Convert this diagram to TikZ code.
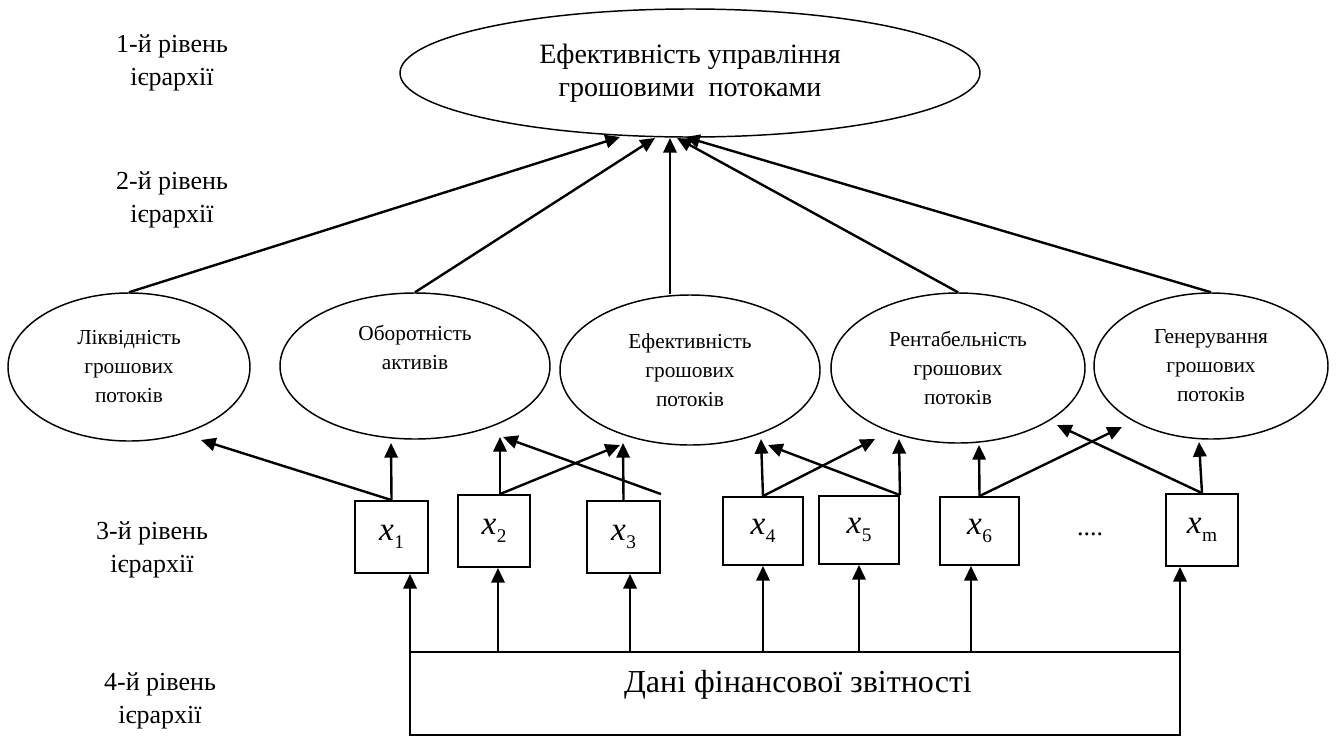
\documentclass[tikz,border=0pt]{standalone}
\usepackage{fontspec}
\setmainfont{Liberation Serif}
\usetikzlibrary{shapes.geometric,arrows.meta}
\newcommand{\xlab}[1]{\textit{x}\kern0.3pt\raisebox{-6.5pt}{\fontsize{14.5}{14.5}\selectfont #1}}
\begin{document}
\begin{tikzpicture}[x=0.75pt,y=-0.75pt,
  ell/.style={draw,ellipse,line width=1.1pt,inner sep=0pt,align=center},
  lvtwo/.style={ell,font=\fontsize{16}{21.75}\selectfont},
  xbox/.style={draw,rectangle,line width=1.4pt,inner sep=0pt,font=\fontsize{25}{25}\selectfont},
  arr/.style={line width=1.8pt,-{Triangle[length=11pt,width=10pt]}},
  lvl/.style={align=center,font=\fontsize{19.5}{25}\selectfont},
]
\useasboundingbox (0,0) rectangle (1336,736);

% level labels
\node[lvl] (L1) at (172,63) {1-й рівень\\ієрархії};
\node[lvl] (L2) at (172,200) {2-й рівень\\ієрархії};
\node[lvl] (L3) at (152,550) {3-й рівень\\ієрархії};
\node[lvl] (L4) at (160,701) {4-й рівень\\ієрархії};

% level 1
\node[ell,minimum width=435pt,minimum height=96pt,font=\fontsize{21}{24.75}\selectfont] (top) at (690,73)
  {Ефективність управління\\грошовими\ \ потоками};

% level 2
\node[lvtwo,minimum width=181.5pt,minimum height=111pt] (E1) at (129,367) {Ліквідність\\грошових\\потоків};
\node[lvtwo,minimum width=202.5pt,minimum height=109.5pt] (E2) at (415,366) {Оборотність\\активів\\\strut};
\node[lvtwo,minimum width=195pt,minimum height=112.5pt] (E3) at (690,370) {Ефективність\\грошових\\потоків};
\node[lvtwo,minimum width=190.5pt,minimum height=112.5pt] (E4) at (958,368) {Рентабельність\\грошових\\потоків};
\node[lvtwo,minimum width=175.5pt,minimum height=109.5pt] (E5) at (1211,366) {Генерування\\грошових\\потоків};

% level 3
\node[xbox,minimum width=54.75pt,minimum height=54pt] (x1) at (391.5,537) {\xlab{1}};
\node[xbox,minimum width=54pt,minimum height=54pt] (x2) at (494,531) {\xlab{2}};
\node[xbox,minimum width=54.75pt,minimum height=54pt] (x3) at (623.5,537) {\xlab{3}};
\node[xbox,minimum width=60pt,minimum height=51pt] (x4) at (763,531) {\xlab{4}};
\node[xbox,minimum width=60pt,minimum height=51pt] (x5) at (859,530) {\xlab{5}};
\node[xbox,minimum width=59.25pt,minimum height=51pt] (x6) at (979.5,531) {\xlab{6}};
\node[xbox,minimum width=54pt,minimum height=54pt] (xm) at (1202,530) {\xlab{m}};
\node[anchor=base,font=\fontsize{19.5}{20}\selectfont] (dots) at (1090,535) {....};

% level 4
\node[draw,rectangle,line width=1.3pt,minimum width=577.5pt,minimum height=62.25pt,inner sep=0pt] (data) at (795,693.5) {};
\node[anchor=base,font=\fontsize{24}{24}\selectfont] (datatxt) at (798,692) {Дані фінансової звітності};

% tips on the top ellipse
\coordinate (T1) at (620,137);
\coordinate (T2) at (655,138);
\coordinate (T3) at (670,138);
\coordinate (T4) at (677,138);
\coordinate (T5) at (685,137);
\draw[arr] (E1.north) -- (T1);
\draw[arr] (E2.north) -- (T2);
\draw[arr] (T3 |- E3.north) -- (T3);
\draw[arr] (E4.north) -- (T4);
\draw[arr] (E5.north) -- (T5);

% tips on level-2 ellipses
\coordinate (t1) at (201,440);
\coordinate (t2) at (391,443);
\coordinate (t3) at (500,437);
\coordinate (t4) at (620,445);
\coordinate (t5) at (623,443);
\coordinate (t6) at (503,437);
\coordinate (t7) at (761,439);
\coordinate (t8) at (875,439);
\coordinate (t9) at (899,439);
\coordinate (t10) at (768,445);
\coordinate (t11) at (979,445);
\coordinate (t12) at (1122,427);
\coordinate (t13) at (1199,442);
\coordinate (t14) at (1057,425);

\draw[arr] (x1.north) -- (t1);
\draw[arr] (x1.north) -- (t2);
\draw[arr] ([xshift=4.5pt]x2.north) -- (t3);
\draw[arr] ([xshift=4.5pt]x2.north) -- (t4);
\draw[arr] (x3.north) -- (t5);
\draw[arr] ([yshift=4.5pt]x3.north east) -- (t6);
\draw[arr] (x4.north) -- (t7);
\draw[arr] (x4.north) -- (t8);
\draw[arr] (x5.north east) -- (t9);
\draw[arr] (x5.north east) -- (t10);
\draw[arr] (x6.north) -- (t11);
\draw[arr] (x6.north) -- (t12);
\draw[arr] (xm.north) -- (t13);
\draw[arr] (xm.north) -- (t14);

% from data to indicators
\draw[arr] ([xshift=13.9pt]x1.south |- data.north) -- ([xshift=13.9pt]x1.south);
\draw[arr] ([xshift=3pt]x2.south |- data.north) -- ([xshift=3pt]x2.south);
\draw[arr] ([xshift=4.9pt]x3.south |- data.north) -- ([xshift=4.9pt]x3.south);
\draw[arr] (x4.south |- data.north) -- (x4.south);
\draw[arr] (x5.south |- data.north) -- (x5.south);
\draw[arr] ([xshift=-6.4pt]x6.south |- data.north) -- ([xshift=-6.4pt]x6.south);
\draw[arr] ([xshift=-16.5pt]xm.south |- data.north) -- ([xshift=-16.5pt]xm.south);
\end{tikzpicture}
\end{document}
